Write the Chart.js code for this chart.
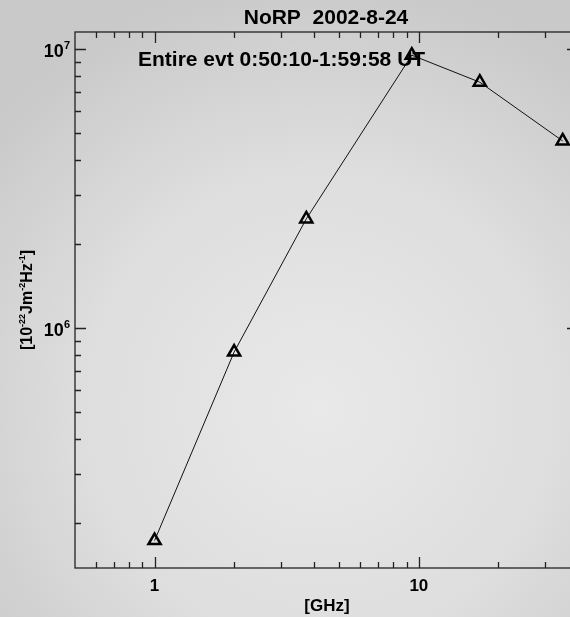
<!DOCTYPE html>
<html>
<head>
<meta charset="utf-8">
<script src="https://cdn.jsdelivr.net/npm/chart.js@4.4.1/dist/chart.umd.min.js"></script>
<style>
  html, body { margin: 0; padding: 0; width: 570px; height: 617px; overflow: hidden; }
  body { background: radial-gradient(ellipse 75% 70% at 56% 66%, #e9e9e9 0%, #dedede 55%, #c9c9c9 100%); }
  #wrap { position: relative; width: 570px; height: 617px; overflow: hidden; }
  #myChart { position: absolute; left: 0; top: 0; display: block; width: 580px; height: 617px; }
</style>
</head>
<body>
<div id="wrap"><canvas id="myChart" width="580" height="617"></canvas></div>
<script>
// NoRP frequencies (GHz) and flux
const freqs = [1, 2, 3.75, 9.4, 17, 35];
const flux = [1.73e5, 8.2e5, 2.46e6, 9.5e6, 7.6e6, 4.68e6];

const xMajor = [1, 10];
const xMinor = [0.6, 0.7, 0.8, 0.9, 2, 3, 4, 5, 6, 7, 8, 9, 20, 30];
const xLabels = ["1", "10"];
const yMajor = [1e6, 1e7];
const yMinor = [2e5, 3e5, 4e5, 5e5, 6e5, 7e5, 8e5, 9e5, 2e6, 3e6, 4e6, 5e6, 6e6, 7e6, 8e6, 9e6];
const yExp = ["6", "7"];

const FONT = '"Liberation Sans", Arial, Helvetica, sans-serif';

// draw text with superscript parts: parts = [[text, isSup], ...]
function supText(ctx, parts, x, y, size, supSize, align) {
  let total = 0;
  parts.forEach((p) => {
    ctx.font = "bold " + (p[1] ? supSize : size) + "px " + FONT;
    total += ctx.measureText(p[0]).width;
  });
  let cx = x;
  if (align === "center") cx = x - total / 2;
  if (align === "right") cx = x - total;
  ctx.textAlign = "left";
  ctx.textBaseline = "alphabetic";
  parts.forEach((p) => {
    ctx.font = "bold " + (p[1] ? supSize : size) + "px " + FONT;
    ctx.fillText(p[0], cx, p[1] ? y - size * 0.42 : y);
    cx += ctx.measureText(p[0]).width;
  });
}

const idlAxes = {
  id: "idlAxes",
  afterDraw(chart) {
    const ctx = chart.ctx;
    const a = chart.chartArea;
    const xs = chart.scales.x;
    const ys = chart.scales.y;
    ctx.save();
    ctx.strokeStyle = "#222";
    ctx.lineWidth = 1.3;
    ctx.strokeRect(a.left, a.top, a.right - a.left, a.bottom - a.top);

    ctx.beginPath();
    const xt = (v, len) => {
      const px = Math.round(xs.getPixelForValue(v)) + 0.5;
      ctx.moveTo(px, a.bottom); ctx.lineTo(px, a.bottom - len);
      ctx.moveTo(px, a.top); ctx.lineTo(px, a.top + len);
    };
    const yt = (v, len) => {
      const py = Math.round(ys.getPixelForValue(v)) + 0.5;
      ctx.moveTo(a.left, py); ctx.lineTo(a.left + len, py);
      ctx.moveTo(a.right, py); ctx.lineTo(a.right - len, py);
    };
    xMajor.forEach((v) => xt(v, 11));
    xMinor.forEach((v) => xt(v, 6));
    yMajor.forEach((v) => yt(v, 11));
    yMinor.forEach((v) => yt(v, 6));
    ctx.stroke();

    ctx.fillStyle = "#000";
    ctx.font = "bold 17px " + FONT;
    ctx.textAlign = "center";
    ctx.textBaseline = "alphabetic";
    xMajor.forEach((v, i) => {
      ctx.fillText(xLabels[i], xs.getPixelForValue(v), 591);
    });
    ctx.fillText("[GHz]", 327, 611);

    yMajor.forEach((v, i) => {
      const py = ys.getPixelForValue(v);
      supText(ctx, [["10", false], [yExp[i], true]], 70, py + 8, 18, 11, "right");
    });

    // y title, rotated
    ctx.save();
    ctx.translate(32, 300);
    ctx.rotate(-Math.PI / 2);
    supText(ctx, [["[10", false], ["-22", true], ["Jm", false], ["-2", true], ["Hz", false], ["-1", true], ["]", false]], 0, 0, 16, 9, "center");
    ctx.restore();

    ctx.font = "bold 21px " + FONT;
    ctx.textAlign = "center";
    ctx.fillText("NoRP  2002-8-24", 326, 24);
    ctx.textAlign = "left";
    ctx.fillText("Entire evt 0:50:10-1:59:58 UT", 138, 66);
    ctx.restore();
  },
};

new Chart(document.getElementById("myChart"), {
  type: "line",
  data: {
    datasets: [
      {
        data: freqs.map((f, i) => ({ x: f, y: flux[i] })),
        borderColor: "#111",
        borderWidth: 1,
        pointStyle: "triangle",
        pointRadius: 7,
        pointBorderWidth: 2.5,
        pointBorderColor: "#000",
        pointBackgroundColor: "rgba(0,0,0,0)",
        tension: 0,
        clip: false,
      },
    ],
  },
  options: {
    responsive: false,
    animation: false,
    // canvas is wider than the page: the right axis falls just outside, as in the original crop
    layout: { autoPadding: false, padding: { left: 75, top: 32, right: 2, bottom: 49 } },
    plugins: { legend: { display: false }, tooltip: { enabled: false } },
    scales: {
      x: { type: "logarithmic", min: 0.5, max: 40, display: false },
      y: { type: "logarithmic", min: 1.38e5, max: 1.15e7, display: false },
    },
  },
  plugins: [idlAxes],
});
</script>
</body>
</html>
